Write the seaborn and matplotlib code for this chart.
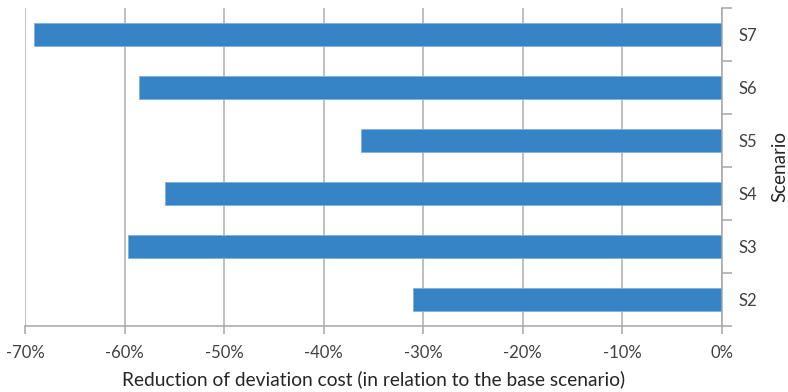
import matplotlib
matplotlib.use("Agg")
import matplotlib.pyplot as plt
import matplotlib.ticker as mticker
import numpy as np
import pandas as pd
import seaborn as sns

scenarios = ["S7", "S6", "S5", "S4", "S3", "S2"]
reduction_pct = [-69.1, -58.6, -36.3, -55.9, -59.7, -31.0]
x_ticks = [-70, -60, -50, -40, -30, -20, -10, 0]

df = pd.DataFrame({"Scenario": scenarios, "Reduction": reduction_pct})

sns.set_theme(style="white")
plt.rcParams["font.family"] = ["Lato", "DejaVu Sans"]

fig = plt.figure(figsize=(7.88, 3.92), dpi=100)
ax = fig.add_axes([25 / 788, 66 / 392, 697 / 788, 318 / 392])

sns.barplot(data=df, x="Reduction", y="Scenario", order=scenarios, orient="h",
            color="#3683C6", saturation=1, width=0.42, edgecolor="#7fb0dc",
            linewidth=0.6, ax=ax)

ax.set_xlim(-70, 0)
ax.set_ylim(len(scenarios) - 0.5, -0.5)
ax.set_xticks(x_ticks)
ax.xaxis.set_major_formatter(mticker.FuncFormatter(lambda v, p: f"{int(round(v))}%"))
ax.grid(axis="x", color="#ADADAD", linewidth=1.1)
ax.set_axisbelow(True)

for side in ["left", "top"]:
    ax.spines[side].set_visible(False)
for side in ["right", "bottom"]:
    ax.spines[side].set_visible(True)
    ax.spines[side].set_color("#A6A6A6")
    ax.spines[side].set_linewidth(1.1)

ax.yaxis.tick_right()
ax.set_yticks(np.arange(len(scenarios)))
ax.set_yticklabels(scenarios)
ax.set_yticks(np.arange(len(scenarios) + 1) - 0.5, minor=True)
ax.tick_params(axis="y", which="major", length=0, pad=12, labelsize=12, labelcolor="#404040")
ax.tick_params(axis="y", which="minor", length=7, width=1.1, color="#A6A6A6", right=True, left=False)
ax.tick_params(axis="x", which="major", length=6, width=1.1, color="#A6A6A6", bottom=True,
               pad=8, labelsize=12, labelcolor="#404040")

ax.set_xlabel("Reduction of deviation cost (in relation to the base scenario)",
              fontsize=13.8, color="#262626", labelpad=6)
ax.set_ylabel("")
fig.text(780 / 788, 1 - 167 / 392, "Scenario", rotation=90, ha="center", va="center",
         fontsize=13.5, color="#262626")

fig.savefig("out.png", dpi=100)
